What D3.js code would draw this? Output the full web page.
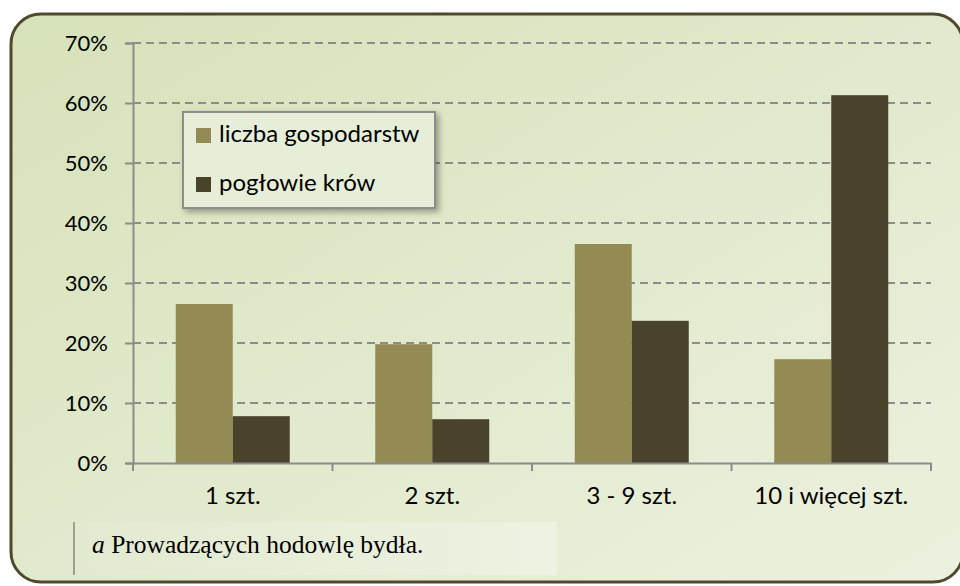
<!DOCTYPE html>
<html>
<head>
<meta charset="utf-8">
<script src="https://cdn.jsdelivr.net/npm/d3@7"></script>
<style>
  body { margin: 0; background: #fff; }
  svg { display: block; }
</style>
</head>
<body>
<svg id="chart" width="960" height="586"></svg>
<script>
// data
var categories = ['1 szt.', '2 szt.', '3 - 9 szt.', '10 i więcej szt.'];
var seriesNames = ['liczba gospodarstw', 'pogłowie krów'];
var gospodarstwa = [26.5, 19.8, 36.5, 17.3];
var krowy = [7.8, 7.3, 23.7, 61.3];
var yTicks = [0, 10, 20, 30, 40, 50, 60, 70];
var note = 'Prowadzących hodowlę bydła.';

var colors = ['#948a54', '#4a432c'];
var font = 'Lato, "Open Sans", sans-serif';

var svg = d3.select('#chart');
var defs = svg.append('defs');

var bg = defs.append('linearGradient').attr('id', 'bg')
  .attr('x1', 0).attr('y1', 0).attr('x2', 1).attr('y2', 1);
bg.append('stop').attr('offset', '0%').attr('stop-color', '#d6e2b9');
bg.append('stop').attr('offset', '100%').attr('stop-color', '#ecf1df');

var fg = defs.append('linearGradient').attr('id', 'fg')
  .attr('x1', 0).attr('y1', 0).attr('x2', 1).attr('y2', 0);
fg.append('stop').attr('offset', '0%').attr('stop-color', '#e2ead0');
fg.append('stop').attr('offset', '100%').attr('stop-color', '#edf2e2');

var sh = defs.append('filter').attr('id', 'shadow')
  .attr('x', -0.1).attr('y', -0.2).attr('width', 1.3).attr('height', 1.5);
sh.append('feDropShadow').attr('dx', 3).attr('dy', 3).attr('stdDeviation', 3)
  .attr('flood-color', '#000').attr('flood-opacity', 0.35);

// frame
svg.append('rect')
  .attr('x', 11).attr('y', 14).attr('width', 952).attr('height', 568)
  .attr('rx', 30).attr('ry', 30)
  .attr('fill', 'url(#bg)').attr('stroke', '#4f4a2e').attr('stroke-width', 3);

var x0 = 133, x1 = 931, yTop = 43, yBot = 463;

var x = d3.scaleBand().domain(categories).range([x0, x1])
  .paddingInner(0).paddingOuter(0);
var xs = d3.scaleBand().domain(seriesNames).range([0, x.bandwidth()])
  .paddingInner(0).paddingOuter(0.75);
var y = d3.scaleLinear().domain([0, 70]).range([yBot, yTop]);

// footnote
var fn = svg.append('g').attr('transform', 'translate(73,522)');
fn.append('rect').attr('width', 484).attr('height', 53).attr('fill', 'url(#fg)');
fn.append('rect').attr('width', 2).attr('height', 53).attr('fill', '#a0a090');
var ft = fn.append('text').attr('x', 19).attr('y', 31)
  .attr('font-family', '"Liberation Serif", serif').attr('font-size', 25.5).attr('fill', '#000');
ft.append('tspan').attr('font-style', 'italic').text('a');
ft.append('tspan').text(' ' + note);

// gridlines
svg.append('g').selectAll('line').data(yTicks.filter(function(d){ return d > 0; }))
  .join('line')
  .attr('x1', x0).attr('x2', x1)
  .attr('y1', function(d){ return y(d); }).attr('y2', function(d){ return y(d); })
  .attr('stroke', '#8c8c8c').attr('stroke-width', 2)
  .attr('stroke-dasharray', '8,5');

// bars
var rows = categories.map(function(c, i){
  return [{cat: c, s: seriesNames[0], v: gospodarstwa[i], k: 0},
          {cat: c, s: seriesNames[1], v: krowy[i], k: 1}];
});
svg.append('g').selectAll('g').data(rows).join('g')
  .attr('transform', function(d){ return 'translate(' + x(d[0].cat) + ',0)'; })
  .selectAll('rect').data(function(d){ return d; }).join('rect')
  .attr('x', function(d){ return xs(d.s); })
  .attr('width', xs.bandwidth())
  .attr('y', function(d){ return y(d.v); })
  .attr('height', function(d){ return y(0) - y(d.v); })
  .attr('fill', function(d){ return colors[d.k]; });

// y axis
var yAxis = svg.append('g').attr('transform', 'translate(' + x0 + ',0)')
  .call(d3.axisLeft(y).tickValues(yTicks).tickSize(8).tickPadding(17)
    .tickFormat(function(d){ return d + '%'; }));
yAxis.select('.domain').attr('stroke', '#8c8c8c').attr('stroke-width', 2);
yAxis.selectAll('.tick line').attr('stroke', '#8c8c8c').attr('stroke-width', 2);
yAxis.selectAll('.tick text').attr('font-family', font).attr('font-size', 22)
  .attr('fill', '#000');

// x axis
var xAxis = svg.append('g').attr('transform', 'translate(0,' + yBot + ')')
  .call(d3.axisBottom(x).tickSize(0).tickPadding(0));
xAxis.select('.domain').attr('stroke', '#8c8c8c').attr('stroke-width', 2);
xAxis.selectAll('.tick text').attr('font-family', font).attr('font-size', 24)
  .attr('fill', '#000').attr('dy', 0).attr('y', 0)
  .attr('transform', 'translate(0,' + 35 + ')')
  .attr('dominant-baseline', 'middle');
xAxis.selectAll('.sep').data(categories.concat(['end'])).join('line')
  .attr('class', 'sep')
  .attr('x1', function(d, i){ return x0 + i * x.bandwidth(); })
  .attr('x2', function(d, i){ return x0 + i * x.bandwidth(); })
  .attr('y1', 0).attr('y2', 8)
  .attr('stroke', '#8c8c8c').attr('stroke-width', 2);

// legend
var lg = svg.append('g').attr('transform', 'translate(183,112)');
lg.append('rect').attr('width', 252).attr('height', 96)
  .attr('fill', '#e7eed8').attr('stroke', '#8c8c8c').attr('stroke-width', 2)
  .attr('filter', 'url(#shadow)');
var li = lg.selectAll('g.item').data(seriesNames).join('g').attr('class', 'item')
  .attr('transform', function(d, i){ return 'translate(0,' + (23.5 + i * 49) + ')'; });
li.append('rect').attr('x', 13).attr('y', -7.5).attr('width', 15).attr('height', 15)
  .attr('fill', function(d, i){ return colors[i]; });
li.append('text').attr('x', 36).attr('y', 0).attr('dominant-baseline', 'middle')
  .attr('font-family', font).attr('font-size', 24).attr('fill', '#000')
  .text(function(d){ return d; });
</script>
</body>
</html>
